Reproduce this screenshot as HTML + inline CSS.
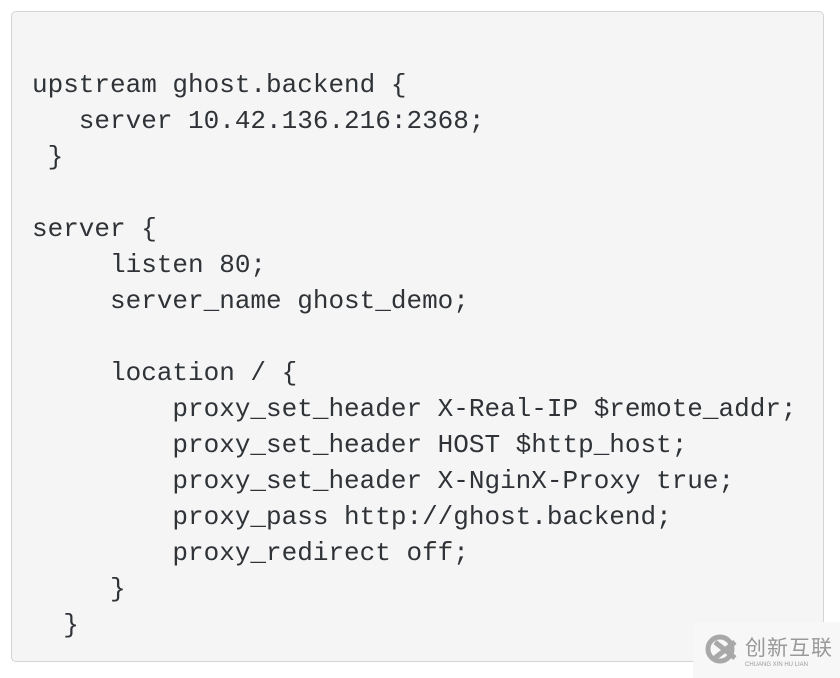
<!DOCTYPE html>
<html><head><meta charset="utf-8"><style>
html,body{margin:0;padding:0;background:#fff;width:840px;height:678px;overflow:hidden;position:relative}
.box{position:absolute;left:11px;top:11px;width:813px;height:651px;border:1.5px solid #d4d4d4;border-radius:5px;background:#f5f5f5;box-sizing:border-box}
pre{position:absolute;left:32px;top:67px;margin:0;font-family:"Liberation Mono",monospace;font-size:26px;line-height:36px;color:#2f3337;letter-spacing:0}
.wm{position:absolute;left:693px;top:622px;width:147px;height:56px;background:#f7f7f7}
.wm .t{position:absolute;left:52px;top:10px;font-family:"Noto Sans CJK SC",sans-serif;font-size:21px;color:#999;letter-spacing:1px}
.wm .s{position:absolute;left:52px;top:40px;font-family:"Liberation Sans",sans-serif;font-size:6px;color:#999}
</style></head><body>
<div class="box"></div>
<pre>upstream ghost.backend {
   server 10.42.136.216:2368;
 }

server {
     listen 80;
     server_name ghost_demo;

     location / {
         proxy_set_header X-Real-IP $remote_addr;
         proxy_set_header HOST $http_host;
         proxy_set_header X-NginX-Proxy true;
         proxy_pass http://ghost.backend;
         proxy_redirect off;
     }
  }</pre>
<div class="wm">
<svg style="position:absolute;left:12px;top:12px" width="34" height="30" viewBox="0 0 34 30"><circle cx="15" cy="15" r="12" fill="none" stroke="#a8a8a8" stroke-width="5"/><path d="M10 8 L30 24 M30 8 L10 24" stroke="#a8a8a8" stroke-width="5"/></svg>
<div class="t">创新互联</div>
<div class="s">CHUANG XIN HU LIAN</div>
</div>
</body></html>
